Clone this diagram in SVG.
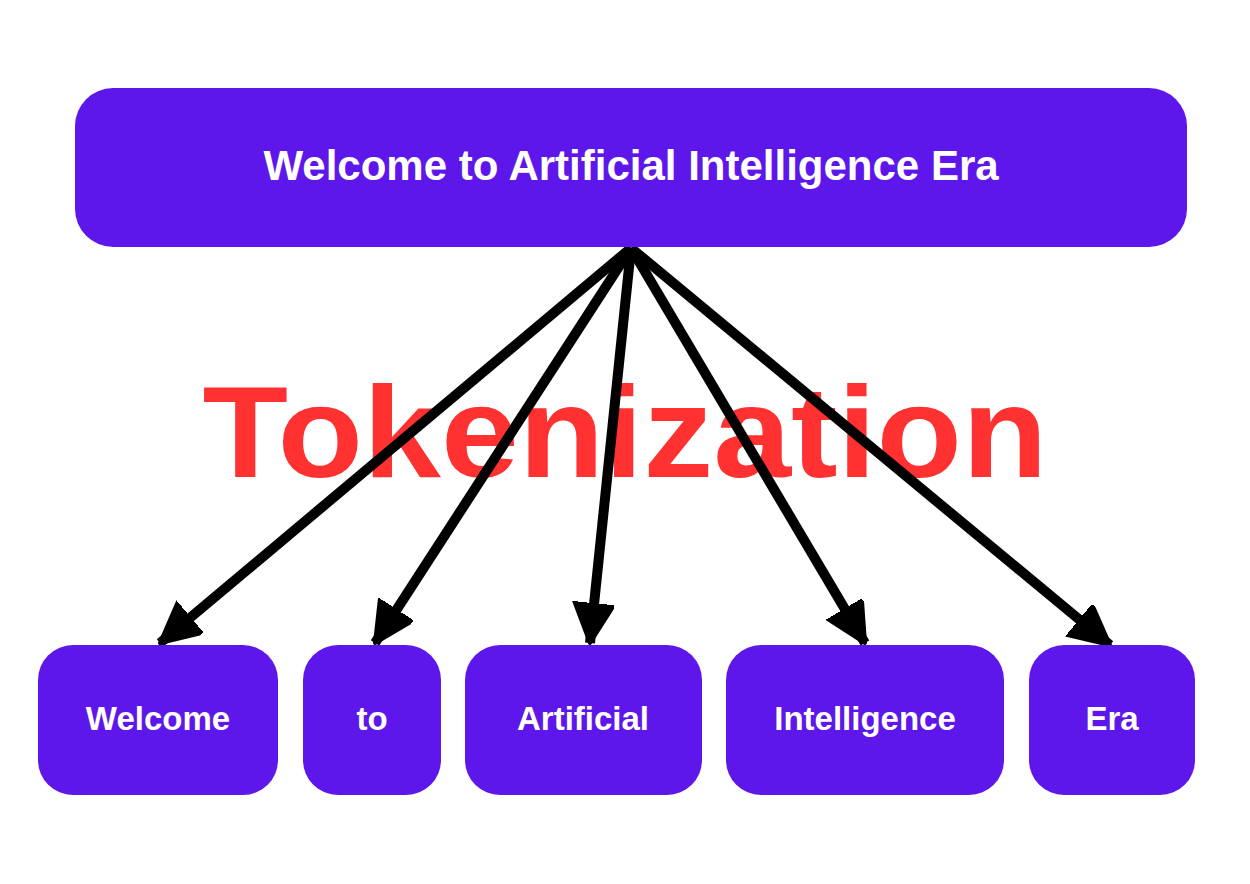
<svg xmlns="http://www.w3.org/2000/svg" width="1250" height="884" viewBox="0 0 1250 884">
<style>
.box{fill:#5E17EB}
.t{fill:#fff;font-family:"Liberation Sans",Arial,sans-serif;font-weight:bold;text-anchor:middle}
.c{stroke:#000;stroke-width:10;fill:none;marker-end:url(#ah)}
</style>
<defs>
<marker id="ah" markerUnits="userSpaceOnUse" markerWidth="50" markerHeight="50" refX="40" refY="20" orient="auto">
<path d="M0,0 L40,20 L0,40 Z" fill="#000" stroke="#000" stroke-width="4" stroke-linejoin="round"/>
</marker>
</defs>
<rect width="1250" height="884" fill="#fff"/>
<text x="625" y="477" text-anchor="middle" font-family="'Liberation Sans',Arial,sans-serif" font-weight="bold" font-size="130" fill="#FF3131" textLength="845" lengthAdjust="spacingAndGlyphs">Tokenization</text>
<g id="connectors">
<line class="c" x1="631" y1="248" x2="160" y2="643"/>
<line class="c" x1="631" y1="248" x2="375" y2="643"/>
<line class="c" x1="631" y1="248" x2="590" y2="643"/>
<line class="c" x1="631" y1="248" x2="865" y2="643"/>
<line class="c" x1="631" y1="248" x2="1110" y2="645"/>
</g>
<g id="top"><rect class="box" x="75" y="88" width="1112" height="159" rx="38"/><text class="t" x="631" y="180" font-size="42">Welcome to Artificial Intelligence Era</text></g>
<g id="welcome"><rect class="box" x="38" y="645" width="240" height="150" rx="35"/><text class="t" x="158" y="730" font-size="33">Welcome</text></g>
<g id="to"><rect class="box" x="303" y="645" width="138" height="150" rx="35"/><text class="t" x="372" y="730" font-size="33">to</text></g>
<g id="artificial"><rect class="box" x="465" y="645" width="237" height="150" rx="35"/><text class="t" x="583" y="730" font-size="33">Artificial</text></g>
<g id="intelligence"><rect class="box" x="726" y="645" width="278" height="150" rx="35"/><text class="t" x="865" y="730" font-size="33">Intelligence</text></g>
<g id="era"><rect class="box" x="1029" y="645" width="166" height="150" rx="35"/><text class="t" x="1112" y="730" font-size="33">Era</text></g>
</svg>
